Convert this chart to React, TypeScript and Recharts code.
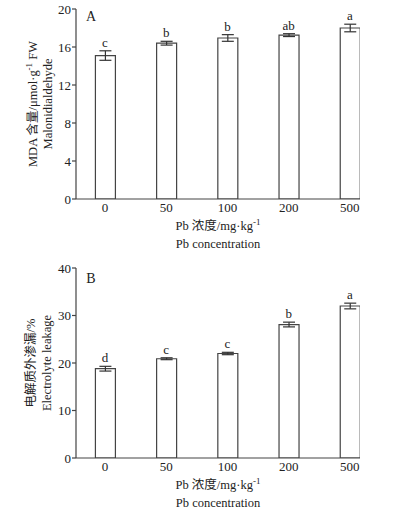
import React from 'react';
import { ComposedChart, Bar, ErrorBar, Line, XAxis, YAxis, LabelList } from 'recharts';

const categories = ['0', '50', '100', '200', '500'];
const categoryIndex = [0, 1, 2, 3, 4];

const mdaValues = [15.1, 16.4, 16.95, 17.25, 18.0];
const mdaErrors = [0.5, 0.2, 0.35, 0.15, 0.4];
const mdaLetters = ['c', 'b', 'b', 'ab', 'a'];
const mdaTicks = [0, 4, 8, 12, 16, 20];

const elValues = [18.8, 20.9, 22.0, 28.1, 32.0];
const elErrors = [0.5, 0.2, 0.25, 0.5, 0.6];
const elLetters = ['d', 'c', 'c', 'b', 'a'];
const elTicks = [0, 10, 20, 30, 40];

const FONT = "'Liberation Serif', 'Times New Roman', 'Noto Sans CJK SC', serif";
const INK = '#444';

type Row = { idx: number; cat: string; value: number; err: number; top: number; letter: string };

const makeData = (vals: number[], errs: number[], letters: string[]): Row[] =>
  categories.map((c, i) => ({
    idx: categoryIndex[i],
    cat: c,
    value: vals[i],
    err: errs[i],
    top: vals[i] + errs[i],
    letter: letters[i],
  }));

const mdaData = makeData(mdaValues, mdaErrors, mdaLetters);
const elData = makeData(elValues, elErrors, elLetters);

function Panel({
  data,
  ticks,
  height,
  marginTop,
}: {
  data: Row[];
  ticks: number[];
  height: number;
  marginTop: number;
}) {
  const plotBottomGap = 26;
  return (
    <ComposedChart
      width={396}
      height={height}
      data={data}
      margin={{ top: marginTop, right: 36, bottom: plotBottomGap, left: 46 }}
    >
      <XAxis
        type="number"
        dataKey="idx"
        domain={[-0.474, 4.166]}
        ticks={categoryIndex}
        tickFormatter={(i: number) => categories[i]}
        tickLine={false}
        tickSize={0}
        tickMargin={4}
        height={30}
        axisLine={{ stroke: INK, strokeWidth: 1.2 }}
        tick={{ fontFamily: FONT, fontSize: 13, fill: '#222' }}
        allowDataOverflow
      />
      <YAxis
        type="number"
        domain={[ticks[0], ticks[ticks.length - 1]]}
        ticks={ticks}
        width={30}
        tickSize={4}
        tickMargin={1}
        axisLine={{ stroke: INK, strokeWidth: 1.2 }}
        tickLine={{ stroke: INK, strokeWidth: 1.2 }}
        tick={{ fontFamily: FONT, fontSize: 13, fill: '#222' }}
        allowDataOverflow
      />
      <Bar dataKey="value" barSize={20} fill="#fff" stroke={INK} strokeWidth={1.2} isAnimationActive={false}>
        <ErrorBar dataKey="err" width={6} stroke="#333" strokeWidth={1.2} direction="y" />
      </Bar>
      <Line
        dataKey="top"
        stroke="none"
        dot={false}
        activeDot={false}
        isAnimationActive={false}
      >
        <LabelList
          dataKey="letter"
          position="top"
          offset={4}
          style={{ fontFamily: FONT, fontSize: 13, fill: '#222' }}
        />
      </Line>
    </ComposedChart>
  );
}

export default function App() {
  const textStyle = { fontFamily: FONT, fontSize: 12.5, fill: '#222' } as React.CSSProperties;
  return (
    <div style={{ position: 'absolute', left: 0, top: 0, width: 396, height: 514, background: '#fff' }}>
      <div style={{ position: 'absolute', left: 0, top: 0 }}>
        <Panel data={mdaData} ticks={mdaTicks} height={255} marginTop={9} />
      </div>
      <div style={{ position: 'absolute', left: 0, top: 255 }}>
        <Panel data={elData} ticks={elTicks} height={259} marginTop={13} />
      </div>
      <svg
        width={396}
        height={514}
        style={{ position: 'absolute', left: 0, top: 0, pointerEvents: 'none' }}
      >
        <text x={91} y={21} textAnchor="middle" style={{ ...textStyle, fontSize: 14 }}>A</text>
        <text x={91} y={283} textAnchor="middle" style={{ ...textStyle, fontSize: 14 }}>B</text>

        <text x={218} y={230} textAnchor="middle" style={textStyle}>
          Pb 浓度/mg·kg<tspan dy={-5} fontSize={9}>-1</tspan>
        </text>
        <text x={218} y={248} textAnchor="middle" style={textStyle}>Pb concentration</text>
        <text x={218} y={489} textAnchor="middle" style={textStyle}>
          Pb 浓度/mg·kg<tspan dy={-5} fontSize={9}>-1</tspan>
        </text>
        <text x={218} y={507} textAnchor="middle" style={textStyle}>Pb concentration</text>

        <text transform="translate(37,104) rotate(-90)" textAnchor="middle" style={textStyle}>
          MDA 含量/μmol·g<tspan dy={-5} fontSize={9}>-1</tspan><tspan dy={5}> FW</tspan>
        </text>
        <text transform="translate(52,104) rotate(-90)" textAnchor="middle" style={textStyle}>Malonidialdehyde</text>

        <text transform="translate(35,363) rotate(-90)" textAnchor="middle" style={textStyle}>电解质外渗漏/%</text>
        <text transform="translate(51,363) rotate(-90)" textAnchor="middle" style={textStyle}>Electrolyte leakage</text>
      </svg>
    </div>
  );
}
